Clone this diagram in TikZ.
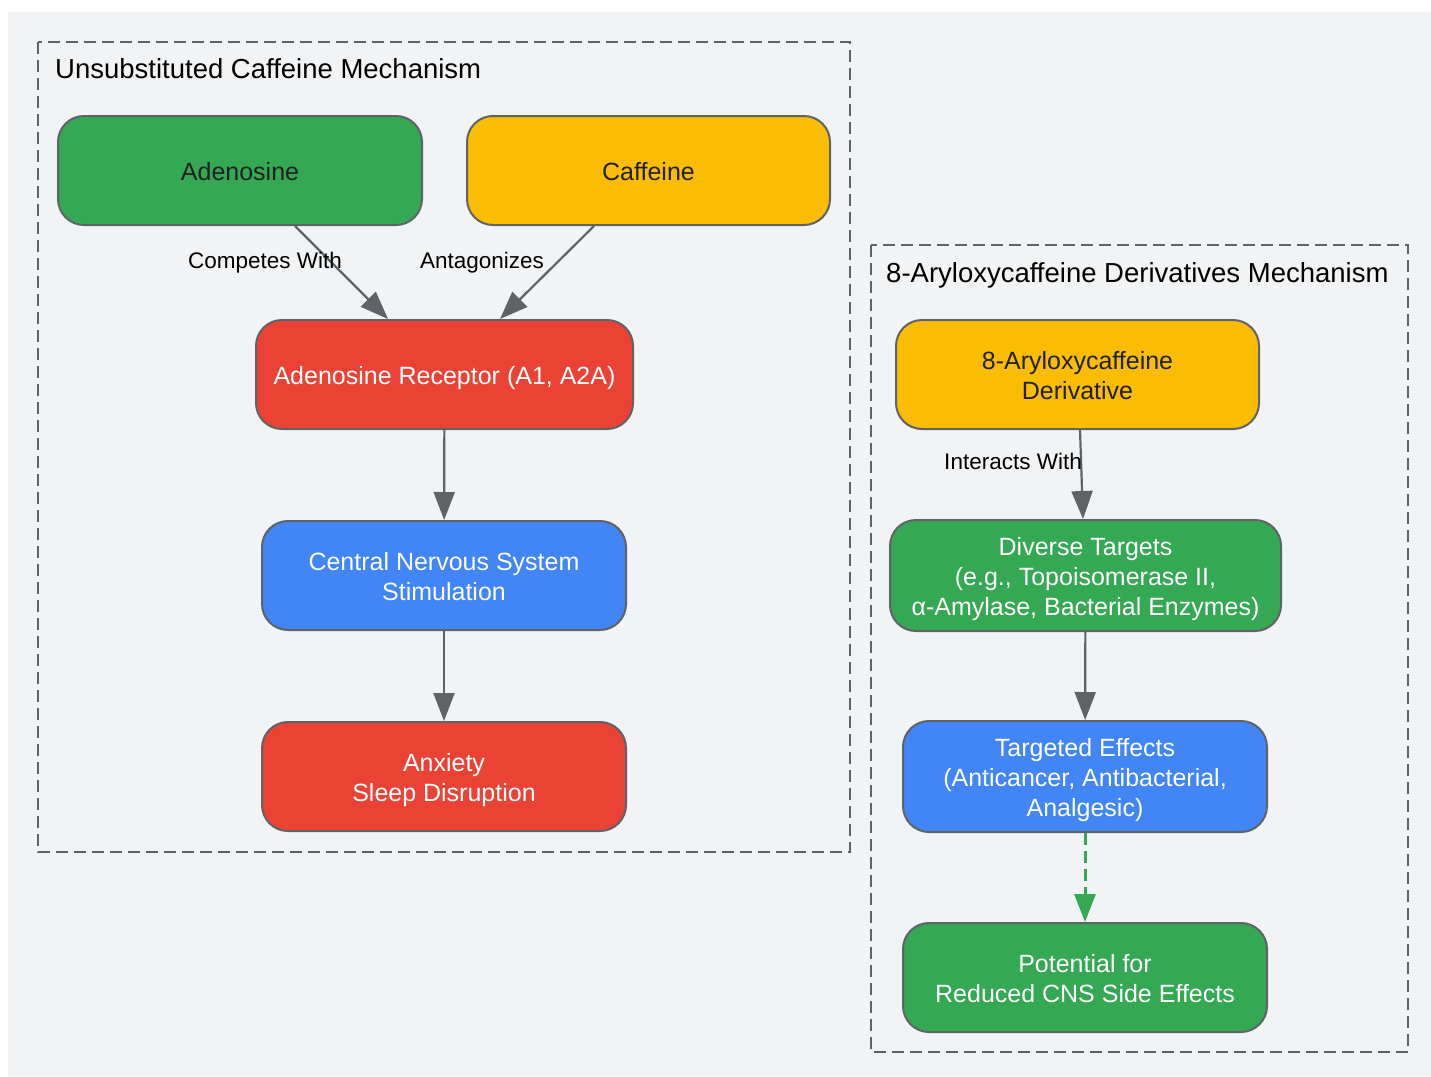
\documentclass[tikz,border=0pt]{standalone}
\usepackage{fontspec}
\setmainfont{Liberation Sans}
\usetikzlibrary{arrows.meta}
\definecolor{bg}{HTML}{F1F3F5}
\definecolor{edge}{HTML}{5F6368}
\definecolor{gG}{HTML}{34A853}
\definecolor{gY}{HTML}{FBBC04}
\definecolor{gR}{HTML}{EA4335}
\definecolor{gB}{HTML}{4285F4}
\definecolor{dark}{HTML}{202124}
\newcommand\bs{\rule[-4.5pt]{0pt}{29pt}}
\tikzset{
  box/.style={draw=edge, line width=2pt, rounded corners=26pt, align=center,
    font=\fontsize{25}{30}\selectfont, inner sep=0pt},
  frame/.style={draw=edge, line width=2pt, dash pattern=on 12pt off 6pt},
  conn/.style={draw=edge, line width=2.2pt, -{Triangle[length=28pt,width=21pt]}},
  lbl/.style={font=\fontsize{22.5}{27}\selectfont, text=black, anchor=base, inner sep=0pt},
  ttl/.style={font=\fontsize{27.5}{32}\selectfont, text=black, anchor=base west, inner sep=0pt},
}
\begin{document}
\begin{tikzpicture}[x=1pt,y=-1pt]
\useasboundingbox (0,0) rectangle (1431,1076);
\fill[white] (0,0) rectangle (1431,1076);
\fill[bg] (8,12) rectangle (1431,1076);
% frames
\draw[frame] (38,42) rectangle (850,852);
\draw[frame] (871,245) rectangle (1408,1052);
\node[ttl] (t1) at (55,78) {Unsubstituted Caffeine Mechanism};
\node[ttl] (t2) at (886,282) {8-Aryloxycaffeine Derivatives Mechanism};
% left nodes
\node[box, fill=gG, text=dark, minimum width=364pt, minimum height=109pt] (aden) at (240,170.5) {\bs Adenosine};
\node[box, fill=gY, text=dark, minimum width=363pt, minimum height=109pt] (caff) at (648.5,170.5) {\bs Caffeine};
\node[box, fill=gR, text=white, minimum width=377pt, minimum height=109pt] (rec) at (444.5,374.5) {\bs Adenosine Receptor (A1, A2A)};
\node[box, fill=gB, text=white, minimum width=364pt, minimum height=109pt] (cns) at (444,575.5) {\bs Central Nervous System\\\bs Stimulation};
\node[box, fill=gR, text=white, minimum width=364pt, minimum height=109pt] (anx) at (444,776.5) {\bs Anxiety\\\bs Sleep Disruption};
% right nodes
\node[box, fill=gY, text=dark, minimum width=363pt, minimum height=109pt] (der) at (1077.5,374.5) {\bs 8-Aryloxycaffeine\\\bs Derivative};
\node[box, fill=gG, text=white, minimum width=391pt, minimum height=111pt] (tar) at (1085.5,575.5) {\bs Diverse Targets\\\bs (e.g., Topoisomerase II,\\\bs α-Amylase, Bacterial Enzymes)};
\node[box, fill=gB, text=white, minimum width=364pt, minimum height=111pt] (eff) at (1085,776.5) {\bs Targeted Effects\\\bs (Anticancer, Antibacterial,\\\bs Analgesic)};
\node[box, fill=gG, text=white, minimum width=364pt, minimum height=109pt] (pot) at (1085,977.5) {\bs Potential for\\\bs Reduced CNS Side Effects};
% connectors
\coordinate (a1) at (295,226);
\coordinate (a2) at (388,319);
\coordinate (c1) at (594,226);
\coordinate (c2) at (500,319);
\draw[conn] (a1) -- (a2);
\draw[conn] (c1) -- (c2);
\draw[conn] (rec) -- (cns);
\draw[conn] (cns) -- (anx);
\coordinate (d1) at (1080,430);
\coordinate (d2) at (1083,519);
\draw[conn] (d1) -- (d2);
\draw[conn] (tar) -- (eff);
\draw[conn, draw=gG, line width=3pt, dash pattern=on 12pt off 6pt, -{Triangle[length=28pt,width=21pt, fill=gG]}] (eff) -- (pot);
% labels
\node[lbl] (l1) at (265,268) {Competes With};
\node[lbl] (l2) at (482,268) {Antagonizes};
\node[lbl] (l3) at (1013,469) {Interacts With};
\end{tikzpicture}
\end{document}
